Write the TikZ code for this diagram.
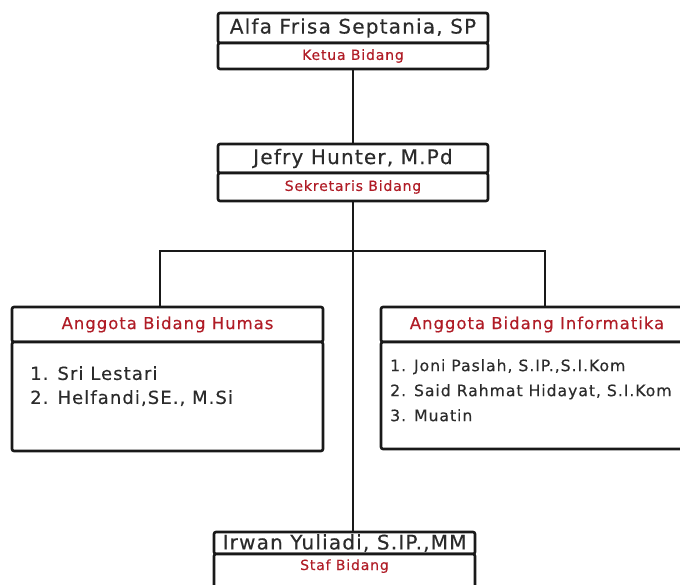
\documentclass[tikz,border=0pt]{standalone}
\usepackage{fontspec}
\setmainfont{DejaVu Sans}[LetterSpace=6, FakeBold=0.3]
\usepackage{tikz}
\definecolor{bidangRed}{rgb}{0.69, 0.11, 0.15}
\definecolor{boxBlack}{rgb}{0.10, 0.10, 0.10}
\definecolor{textGray}{rgb}{0.17, 0.17, 0.17}

\tikzset{
  frame/.style={draw=boxBlack, line width=2.6pt, fill=white, rounded corners=2pt, inner sep=0pt, outer sep=0pt},
  namebox/.style={frame, text=textGray, font=\fontsize{20}{22}\selectfont},
  rolebox/.style={frame, text=bidangRed, font=\fontsize{14}{16}\selectfont},
  headbox/.style={frame, text=bidangRed, font=\fontsize{16.5}{18}\selectfont},
  listtext/.style={inner sep=0pt, align=left, text=textGray},
  link/.style={draw=boxBlack, line width=1.3pt}
}

\begin{document}
\begin{tikzpicture}[x=1pt,y=-1pt]
        \useasboundingbox (0,0) rectangle (680,584);
        \clip (0,0) rectangle (680,584);

        % connectors
        \coordinate (cabang) at (353,251);

        % ketua
        \node[namebox, minimum width=270pt, minimum height=30pt, anchor=north] (ketua) at (353,13) {Alfa Frisa Septania, SP};
        \node[rolebox, minimum width=270pt, minimum height=26pt, anchor=north] (ketuaJab) at (ketua.south) {Ketua Bidang};

        % sekretaris
        \node[namebox, minimum width=270pt, minimum height=29pt, anchor=north] (sekretaris) at (353,144) {Jefry Hunter, M.Pd};
        \node[rolebox, minimum width=270pt, minimum height=28pt, anchor=north] (sekretarisJab) at (sekretaris.south) {Sekretaris Bidang};

        % anggota humas
        \node[headbox, minimum width=311pt, minimum height=35pt, anchor=north] (humas) at (167.5,307) {Anggota Bidang Humas};
        \node[frame, minimum width=311pt, minimum height=109pt, anchor=north] (humasIsi) at (humas.south) {};
        \node[listtext, font=\fontsize{18}{24}\selectfont, anchor=north west] (humasDaftar)
            at ([xshift=18pt,yshift=-24pt]humasIsi.north west) {1. Sri Lestari\\2. Helfandi,SE., M.Si};

        % anggota informatika
        \node[headbox, minimum width=312pt, minimum height=35pt, anchor=north] (informatika) at (537,307) {Anggota Bidang Informatika};
        \node[frame, minimum width=312pt, minimum height=107pt, anchor=north] (informatikaIsi) at (informatika.south) {};
        \node[listtext, font=\fontsize{15.7}{25}\selectfont, anchor=north west] (informatikaDaftar)
            at ([xshift=9pt,yshift=-17pt]informatikaIsi.north west) {1. Joni Paslah, S.IP.,S.I.Kom\\2. Said Rahmat Hidayat, S.I.Kom\\3. Muatin};

        % staf
        \node[namebox, minimum width=261pt, minimum height=22pt, anchor=north] (staf) at (344.5,532) {Irwan Yuliadi, S.IP.,MM};
        \node[rolebox, minimum width=261pt, minimum height=36pt, anchor=north] (stafJab) at (staf.south) {};
        \node[text=bidangRed, font=\fontsize{14}{16}\selectfont, anchor=base] (stafJabTeks) at ([yshift=-16pt]staf.south) {Staf Bidang};

        \draw[link] (ketuaJab.south) -- (sekretaris.north);
        \draw[link] (sekretarisJab.south) -- (sekretarisJab.south |- staf.north);
        \draw[link] (cabang) -| ([xshift=-7.5pt]humas.north);
        \draw[link] (cabang) -| ([xshift=8pt]informatika.north);
\end{tikzpicture}
\end{document}
